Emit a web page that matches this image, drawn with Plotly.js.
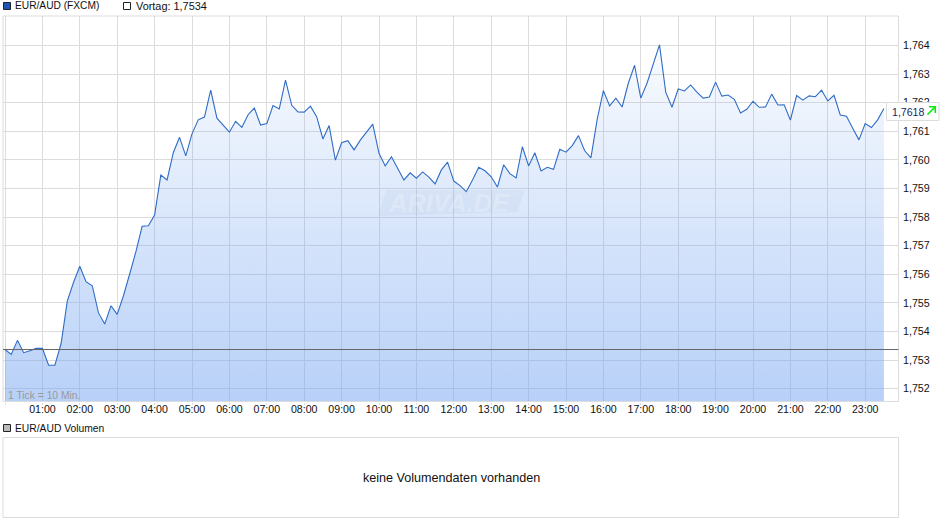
<!DOCTYPE html>
<html><head><meta charset="utf-8">
<script src="https://cdn.plot.ly/plotly-3.0.1.min.js"></script>
<style>html,body{margin:0;padding:0;background:#fff}#c{width:940px;height:526px}</style>
</head><body><div id="c"></div>
<script>
const priceValues=[
1.75337,1.75320,1.75369,1.75326,1.75333,1.75341,1.75341,1.75282,1.75282,1.75358,
1.75507,1.75572,1.75628,1.75574,1.75560,1.75465,1.75426,1.75490,1.75460,1.75525,
1.75601,1.75679,1.75768,1.75770,1.75807,1.75947,1.75930,1.76025,1.76079,1.76014,
1.76091,1.76140,1.76150,1.76244,1.76146,1.76122,1.76097,1.76135,1.76114,1.76158,
1.76181,1.76122,1.76127,1.76190,1.76178,1.76279,1.76191,1.76168,1.76167,1.76188,
1.76151,1.76073,1.76120,1.75999,1.76060,1.76067,1.76035,1.76069,1.76097,1.76125,
1.76023,1.75979,1.76011,1.75971,1.75930,1.75955,1.75936,1.75958,1.75940,1.75916,
1.75965,1.75992,1.75926,1.75910,1.75889,1.75930,1.75974,1.75962,1.75941,1.75905,
1.75983,1.75952,1.75937,1.76046,1.75979,1.76025,1.75961,1.75974,1.75967,1.76037,
1.76027,1.76050,1.76085,1.76032,1.76007,1.76142,1.76242,1.76189,1.76216,1.76185,
1.76268,1.76331,1.76216,1.76268,1.76335,1.76402,1.76237,1.76184,1.76248,1.76241,
1.76262,1.76237,1.76216,1.76220,1.76272,1.76223,1.76227,1.76212,1.76164,1.76177,
1.76205,1.76184,1.76185,1.76230,1.76192,1.76193,1.76139,1.76225,1.76209,1.76224,
1.76221,1.76244,1.76206,1.76226,1.76157,1.76153,1.76111,1.76070,1.76127,1.76113,
1.76140,1.76180];
const tickMinutes=10;
const prevClose=1.75337;
const lastLabel="1,7618";
const hourLabels=["01:00","02:00","03:00","04:00","05:00","06:00","07:00","08:00","09:00","10:00","11:00","12:00","13:00","14:00","15:00","16:00","17:00","18:00","19:00","20:00","21:00","22:00","23:00"];
const priceTicks=[1.752,1.753,1.754,1.755,1.756,1.757,1.758,1.759,1.760,1.761,1.762,1.763,1.764];

const W=940,H=526;
const X=p=>p/W, Y=p=>1-p/H;
const times=priceValues.map((_,i)=>i*tickMinutes/60);
const hourVals=hourLabels.map((_,i)=>i+1);
const font="Liberation Sans, Arial, sans-serif";
const box=(x0,y0,x1,y1,fill,line)=>({type:'rect',xref:'paper',yref:'paper',x0:X(x0),x1:X(x1),y0:Y(y0),y1:Y(y1),fillcolor:fill,line:{color:line,width:1}});
const note=(x,y,text,size,color,o={})=>Object.assign({xref:'paper',yref:'paper',x:X(x),y:Y(y),text,showarrow:false,xanchor:'left',yanchor:'middle',font:{family:font,size,color}},o);
const path=(pts,close)=>pts.map((p,i)=>(i?'L ':'M ')+X(p[0])+' '+Y(p[1])).join(' ')+(close?' Z':'');

const traces=[
{x:times,y:priceValues,type:'scatter',mode:'lines',line:{color:'#2f6cc6',width:1.1},fill:'tozeroy',
 fillgradient:{type:'vertical',start:1.7515,stop:1.7640,colorscale:[[0,'rgba(117,165,241,0.52)'],[1,'rgba(117,165,241,0.04)']]},hoverinfo:'skip'}
];
const layout={
 width:W,height:H,margin:{l:0,r:0,t:0,b:0},paper_bgcolor:'#fff',plot_bgcolor:'#fff',showlegend:false,
 font:{family:font,size:12,color:'#111'},
 xaxis:{domain:[X(3),X(899)],range:[-2/37.4,(899-5)/37.4],tickmode:'array',tickvals:[0].concat(hourVals),ticktext:[''].concat(hourLabels),
  showgrid:true,gridcolor:'#dcdcdc',gridwidth:1,zeroline:false,showline:false,ticks:'outside',ticklen:2,tickcolor:'#dcdcdc',ticklabelstandoff:-4,tickfont:{family:font,size:10.6,color:'#111'},fixedrange:true},
 yaxis:{domain:[Y(401.5),Y(16)],range:[1.752-(401.5-388.7)/28.6*0.001,1.752+(388.7-16)/28.6*0.001],side:'right',tickmode:'array',tickvals:priceTicks,tickformat:'.3f',
  showgrid:true,gridcolor:'#dcdcdc',gridwidth:1,zeroline:false,showline:false,ticks:'',ticklabelstandoff:3,tickfont:{family:font,size:10.7,color:'#111'},fixedrange:true},
 separators:',.',
 shapes:[
  box(3,16,898.5,401.5,'rgba(0,0,0,0)','#dcdcdc'),
  {type:'path',xref:'paper',yref:'paper',layer:'above',path:path([[386,190],[525,190],[517,212],[378,216]],true),fillcolor:'rgba(150,170,200,0.10)',line:{width:0}},
  {type:'line',xref:'paper',yref:'y',x0:X(3),x1:X(898.5),y0:prevClose,y1:prevClose,line:{color:'#666',width:1}},
  box(3.5,2.5,10.5,9.5,'#1a55b5','#222'),
  box(123.5,2.5,130.5,9.5,'#fff','#222'),
  box(3.5,424.5,10.5,431.5,'#bbb','#222'),
  box(3,437.5,898.5,517.5,'#fff','#dcdcdc'),
  box(886.5,102.5,939,120.5,'#fff','#dcdcdc'),
  {type:'path',xref:'paper',yref:'paper',layer:'above',path:path([[927.5,114.5],[934.5,107.5]],false),line:{color:'#00ee00',width:1.6}},
  {type:'path',xref:'paper',yref:'paper',layer:'above',path:path([[929,106.7],[935.3,106.7],[935.3,113]],false),line:{color:'#00ee00',width:1.6}}
 ],
 annotations:[
  note(13,6,'EUR/AUD (FXCM)',10.2,'#111'),
  note(133.5,6,'Vortag: 1,7534',10.9,'#111'),
  note(13,428,'EUR/AUD Volumen',10.3,'#111'),
  note(6,395,'1 Tick = 10 Min.',10.3,'#999'),
  note(451,477.5,'keine Volumendaten vorhanden',12.6,'#111',{xanchor:'center'}),
  note(889.7,111.5,lastLabel,10.6,'#102a6b'),
  {xref:'paper',yref:'paper',x:X(449),y:Y(203),text:'ARIVA.DE',showarrow:false,xanchor:'center',yanchor:'middle',font:{family:font,size:25.5,color:'rgba(255,255,255,0.24)',weight:700,style:'italic'}}
 ]
};
Plotly.newPlot('c',traces,layout,{displayModeBar:false,staticPlot:true});
</script></body></html>
